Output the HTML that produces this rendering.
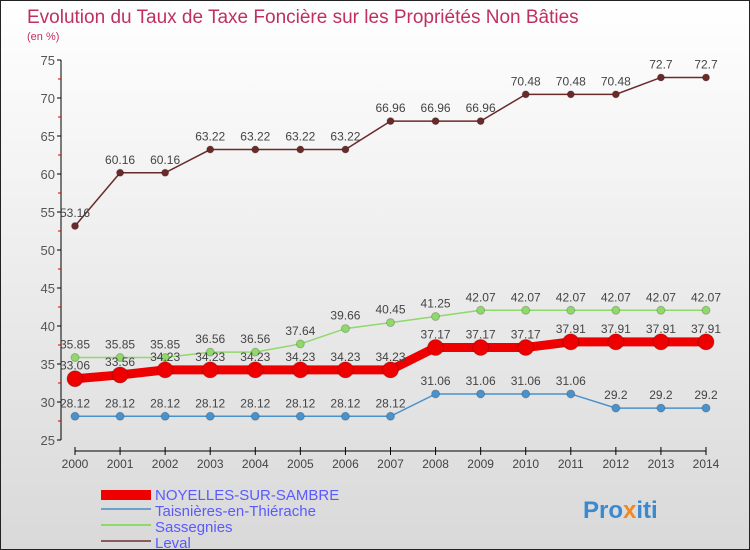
<!DOCTYPE html>
<html><head><meta charset="utf-8"><style>
body{margin:0}
#c{width:748px;height:548px;border:1px solid #222;background:linear-gradient(#fff,#d9d9d9);position:relative;font-family:"Liberation Sans",sans-serif;overflow:hidden}
</style></head><body>
<div id="c">
<svg id="s" width="748" height="548" style="position:absolute;left:0;top:0">
<text x="26" y="22" font-size="19" fill="#c0305f">Evolution du Taux de Taxe Foncière sur les Propriétés Non Bâties</text>
<text x="26" y="39" font-size="11" fill="#c0305f">(en %)</text>
<line x1="60" y1="59" x2="60" y2="439" stroke="#000"/>
<line x1="74" y1="450" x2="705" y2="450" stroke="#000"/>
<g id="ax"></g><g id="ser"></g>
<rect x="100" y="489" width="50" height="10" fill="#e00"/>
<line x1="100" y1="508" x2="150" y2="508" stroke="#6aa2cc" stroke-width="2"/>
<line x1="100" y1="524" x2="150" y2="524" stroke="#8fd86a" stroke-width="2"/>
<line x1="100" y1="540" x2="150" y2="540" stroke="#8a5a5a" stroke-width="2"/>
<g font-size="15" fill="#5a5aff">
<text x="154" y="499">NOYELLES-SUR-SAMBRE</text>
<text x="154" y="515">Taisnières-en-Thiérache</text>
<text x="154" y="531">Sassegnies</text>
<text x="154" y="547">Leval</text>
</g>
<text x="582" y="517" font-size="24" font-weight="bold" fill="#3a8ad0">Pro<tspan fill="#f08a20">x</tspan>iti</text>
</svg></div>
<script>
const years=[2000,2001,2002,2003,2004,2005,2006,2007,2008,2009,2010,2011,2012,2013,2014];
const yTicks=[25,30,35,40,45,50,55,60,65,70,75];
const noyelles=[33.06,33.56,34.23,34.23,34.23,34.23,34.23,34.23,37.17,37.17,37.17,37.91,37.91,37.91,37.91];
const taisnieres=[28.12,28.12,28.12,28.12,28.12,28.12,28.12,28.12,31.06,31.06,31.06,31.06,29.2,29.2,29.2];
const sassegnies=[35.85,35.85,35.85,36.56,36.56,37.64,39.66,40.45,41.25,42.07,42.07,42.07,42.07,42.07,42.07];
const leval=[53.16,60.16,60.16,63.22,63.22,63.22,63.22,66.96,66.96,66.96,70.48,70.48,70.48,72.7,72.7];
const NS="http://www.w3.org/2000/svg";
const X=i=>74+i*(631/14), Y=v=>439-(v-25)*7.6;
function mk(t,a,p){const e=document.createElementNS(NS,t);for(const k in a)e.setAttribute(k,a[k]);p.appendChild(e);return e;}
const ax=document.getElementById('ax'),ser=document.getElementById('ser');
yTicks.forEach((v,i)=>{
 const l=mk('line',{x1:56,x2:60,y1:Y(v),y2:Y(v),stroke:'#000'},ax);
 
 
 if(i<yTicks.length-1){const m=mk('line',{x1:57,x2:60,y1:Y(v+2.5),y2:Y(v+2.5),stroke:'#d00'},ax);
 
 }
 const t=mk('text',{x:54,y:Y(v)+5,'text-anchor':'end','font-size':13,fill:'#555'},ax);t.textContent=v;
 
 
});
years.forEach((yr,i)=>{
 const l=mk('line',{x1:X(i),x2:X(i),y1:446,y2:454,stroke:'#000'},ax);
 
 
 const t=mk('text',{x:X(i),y:467,'text-anchor':'middle','font-size':12,fill:'#444'},ax);t.textContent=yr;
 
 
});
function series(data,color,w,r,name){
 const p=mk('polyline',{points:data.map((v,i)=>X(i)+','+Y(v)).join(' '),fill:'none',stroke:color,'stroke-width':w},ser);
 
 
 data.forEach((v,i)=>{
  const c=mk('circle',{cx:X(i),cy:Y(v),r:r,fill:color,stroke:'#0003'},ser);
  
  
  const t=mk('text',{x:X(i),y:Y(v)-9,'text-anchor':'middle','font-size':12,fill:'#444'},ser);t.textContent=v;
  
  
 });
}
series(taisnieres,'#4a92cc',1.5,4,'taisnieres');
series(sassegnies,'#8fd86a',1.5,4,'sassegnies');
series(leval,'#6a2a2a',1.5,3.5,'leval');
series(noyelles,'#ee0000',9,8,'noyelles');
</script>
</body></html>
